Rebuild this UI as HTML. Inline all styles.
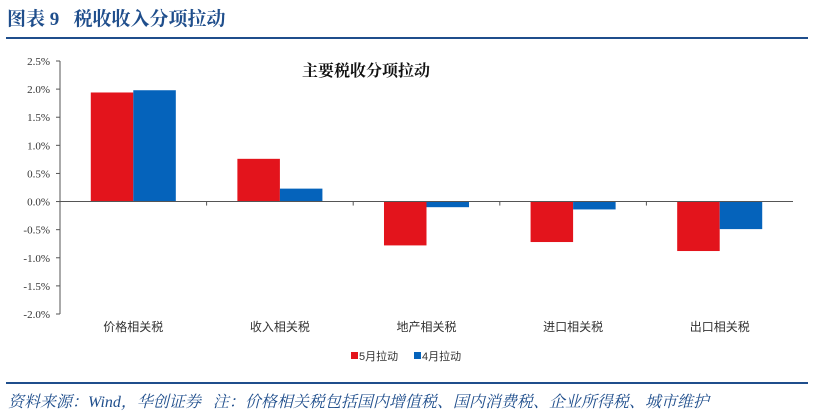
<!DOCTYPE html>
<html><head><meta charset="utf-8"><style>
body{margin:0;width:814px;height:415px;background:#fff;overflow:hidden;position:relative;font-family:"Liberation Serif","Noto Serif CJK SC",serif}
.h{position:absolute;left:7px;top:4px;font-size:19px;font-weight:bold;color:#1f4e8c;font-family:"Liberation Serif","Noto Serif CJK SC",serif}
.l1{position:absolute;left:6px;top:37px;width:802px;height:2px;background:#1f4e8c}
.l2{position:absolute;left:6px;top:382px;width:802px;height:2px;background:#1f4e8c}
.f{position:absolute;left:8px;top:389px;font-size:16px;font-style:italic;color:#1f4e8c;white-space:nowrap}
</style></head><body>
<div class="h">图表 9&nbsp;&nbsp;&nbsp;税收收入分项拉动</div>
<div class="l1"></div>
<svg id="c" width="814" height="415" style="position:absolute;left:0;top:0"></svg>
<div class="l2"></div>
<div class="f">资料来源：Wind，华创证券&nbsp;&nbsp;&nbsp;注：价格相关税包括国内增值税、国内消费税、企业所得税、城市维护</div>
<script>
const categories=["价格相关税","收入相关税","地产相关税","进口相关税","出口相关税"];
const may=[1.94,0.76,-0.78,-0.72,-0.88];
const apr=[1.98,0.23,-0.10,-0.14,-0.49];
const ticks=[2.5,2.0,1.5,1.0,0.5,0.0,-0.5,-1.0,-1.5,-2.0];
const NS="http://www.w3.org/2000/svg";
const svg=document.getElementById('c');
const x0=60,x1=793,yTop=61,yBot=314,vMax=2.5,vMin=-2.0;
const y=v=>yTop+(vMax-v)/(vMax-vMin)*(yBot-yTop);
const cw=(x1-x0)/categories.length;
function mk(t,a){const e=document.createElementNS(NS,t);for(const k in a)e.setAttribute(k,a[k]);svg.appendChild(e);return e;}
let ax=mk('line',{x1:x0,y1:yTop,x2:x0,y2:yBot,stroke:'#555'});


ticks.forEach(t=>{
 const tk=mk('line',{x1:x0-4,y1:y(t),x2:x0,y2:y(t),stroke:'#555'});
 
 
 const tx=mk('text',{x:x0-10,y:y(t)+4,'text-anchor':'end','font-size':11,fill:'#333'});
 tx.textContent=t.toFixed(1)+'%';
 
 
});
categories.forEach((c,i)=>{
 const cx=x0+cw*(i+0.5);
 const bw=cw*0.29;
 [[may[i],'#e3141c',cx-bw],[apr[i],'#0563bb',cx]].forEach(([v,col,bx],j)=>{
  const r=mk('rect',{x:bx,y:Math.min(y(v),y(0)),width:bw,height:Math.abs(y(v)-y(0)),fill:col});
  
  
 });
 const tl=mk('text',{x:cx,y:331,'text-anchor':'middle','font-size':12,fill:'#333','font-family':'"Liberation Sans","Noto Sans CJK SC",sans-serif'});
 tl.textContent=c;
 
 
 if(i>0){const tk=mk('line',{x1:x0+cw*i,y1:y(0),x2:x0+cw*i,y2:y(0)+4,stroke:'#555'});
 
 }
});
const za=mk('line',{x1:x0,y1:y(0),x2:x1,y2:y(0),stroke:'#555'});


const ct=mk('text',{x:366,y:76,'text-anchor':'middle','font-size':16,'font-weight':'bold',fill:'#111'});
ct.textContent='主要税收分项拉动';


[['5月拉动','#e3141c',351],['4月拉动','#0563bb',414]].forEach(([t,col,lx])=>{
 const r=mk('rect',{x:lx,y:352,width:7,height:7,fill:col});
 
 
 const tx=mk('text',{x:lx+8,y:360,'font-size':11,fill:'#333','font-family':'"Liberation Sans","Noto Sans CJK SC",sans-serif'});
 tx.textContent=t;
 
 
});
</script>
</body></html>
